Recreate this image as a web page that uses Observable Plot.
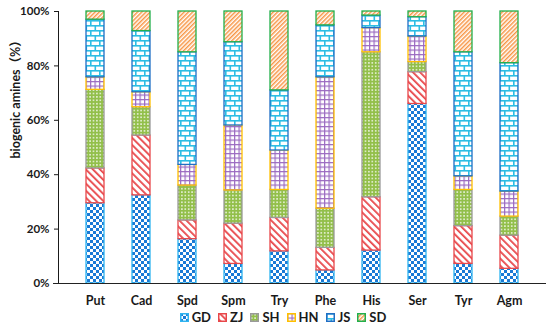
<!DOCTYPE html>
<html>
<head>
<meta charset="utf-8">
<script src="https://cdn.jsdelivr.net/npm/d3@7"></script>
<script src="https://cdn.jsdelivr.net/npm/@observablehq/plot@0.6"></script>
<style>
  html, body { margin: 0; padding: 0; background: #fff; }
  #wrap { position: relative; width: 550px; height: 328px; overflow: hidden; }
  #chart svg g[aria-label^="x-axis"] text { font-size: 12.5px; }
  #legend { position: absolute; top: 309px; left: 0; width: 550px; padding-left: 16px; box-sizing: border-box;
            display: flex; justify-content: center; align-items: center; gap: 7px;
            font-family: Lato, "Liberation Sans", sans-serif; font-weight: bold; font-size: 13px; color: #1a1a1a; }
  #legend .item { display: flex; align-items: center; gap: 3px; }
  #legend svg { display: block; }
</style>
</head>
<body>
<div id="wrap">
  <div id="chart"></div>
  <div id="legend"></div>
</div>
<script>
// ---- data ----
const categories = ["Put", "Cad", "Spd", "Spm", "Try", "Phe", "His", "Ser", "Tyr", "Agm"];
const seriesNames = ["GD", "ZJ", "SH", "HN", "JS", "SD"];
const GD = [29.5, 32.4, 16.3, 7.2, 11.8, 4.8, 12.1, 66.0, 7.2, 5.4];
const ZJ = [12.8, 22.0, 6.9, 14.8, 12.3, 8.3, 19.6, 11.7, 13.9, 12.2];
const SH = [28.9, 10.4, 12.8, 12.2, 10.3, 14.4, 53.3, 3.7, 13.3, 7.0];
const HN = [4.6, 5.5, 7.6, 23.9, 14.5, 48.3, 8.9, 9.4, 5.0, 9.2];
const JS = [21.2, 22.5, 41.4, 30.6, 22.1, 19.1, 4.6, 7.1, 45.6, 47.2];
const SD = [3.0, 7.2, 15.0, 11.3, 29.0, 5.1, 1.5, 2.1, 15.0, 19.0];
const yTicks = [0, 20, 40, 60, 80, 100];
const yLabel = "biogenic amines（%）";

const seriesValues = [GD, ZJ, SH, HN, JS, SD];
const data = categories.flatMap((c, i) =>
  seriesNames.map((s, j) => ({category: c, series: s, value: seriesValues[j][i]})));

// ---- styles ----
const fills = Object.fromEntries(seriesNames.map(s => [s, `url(#p-${s})`]));
const strokes = {GD: "#2fb4f0", ZJ: "#e8474a", SH: "#9a9a9a", HN: "#ffc000", JS: "#1f6fc5", SD: "#22b04c"};

const chart = Plot.plot({
  width: 550,
  height: 308,
  marginLeft: 58,
  marginRight: 4,
  marginTop: 11,
  marginBottom: 25,
  style: {fontFamily: "Lato, 'Liberation Sans', sans-serif", fontWeight: "bold", fontSize: "11.5px", color: "#1a1a1a", background: "white", overflow: "visible"},
  x: {domain: categories, padding: 0.6, label: null, tickSize: 0, tickPadding: 13},
  y: {domain: [0, 100], ticks: yTicks, tickFormat: d => d + "%", label: null, tickSize: 4, tickPadding: 5, line: true},
  color: {type: "identity"},
  marks: [
    Plot.barY(data, Plot.stackY({
      x: "category", y: "value",
      fill: d => fills[d.series], stroke: d => strokes[d.series], strokeWidth: 1.3
    })),
    Plot.ruleY([0], {insetLeft: -5, stroke: "#222", strokeWidth: 1.2}),
    Plot.text([yLabel], {text: d => d, frameAnchor: "left", dx: -43, dy: 11, rotate: -90, fontSize: 12.5, fontWeight: "bold", fill: "#1a1a1a",
      fontFamily: "Lato, 'Noto Sans CJK SC', sans-serif"})
  ]
});

const defs = `
<pattern id="p-GD" patternUnits="userSpaceOnUse" width="6" height="6">
  <rect width="6" height="6" fill="#fff"/>
  <rect x="0" y="0" width="3" height="3" fill="#1a7ad6"/>
  <rect x="3" y="3" width="3" height="3" fill="#1a7ad6"/>
</pattern>
<pattern id="p-ZJ" patternUnits="userSpaceOnUse" width="5" height="5" patternTransform="rotate(-45)">
  <rect width="5" height="5" fill="#fff"/>
  <rect x="0" y="0" width="1.8" height="5" fill="#e8474a"/>
</pattern>
<pattern id="p-SH" patternUnits="userSpaceOnUse" width="3.4" height="3.4">
  <rect width="3.4" height="3.4" fill="#92bf4a"/>
  <rect x="1" y="1" width="1.4" height="1.4" fill="#fff"/>
</pattern>
<pattern id="p-HN" patternUnits="userSpaceOnUse" width="4.5" height="4.5">
  <rect width="4.5" height="4.5" fill="#fff"/>
  <rect x="0" y="0" width="1.2" height="4.5" fill="#9b6bc1"/>
  <rect x="0" y="0" width="4.5" height="1.2" fill="#9b6bc1"/>
</pattern>
<pattern id="p-JS" patternUnits="userSpaceOnUse" width="9" height="10">
  <rect width="9" height="10" fill="#fff"/>
  <rect x="0" y="0" width="9" height="1.6" fill="#2cbde4"/>
  <rect x="0" y="5" width="9" height="1.6" fill="#2cbde4"/>
  <rect x="0" y="0" width="1.6" height="5" fill="#2cbde4"/>
  <rect x="4.5" y="5" width="1.6" height="5" fill="#2cbde4"/>
</pattern>
<pattern id="p-SD" patternUnits="userSpaceOnUse" width="3" height="3" patternTransform="rotate(45)">
  <rect width="3" height="3" fill="#fff"/>
  <rect x="0" y="0" width="1.5" height="3" fill="#f79646"/>
</pattern>`;
d3.select(chart).insert("defs", ":first-child").html(defs);
document.getElementById("chart").appendChild(chart);

// ---- legend ----
const legend = d3.select("#legend");
for (const s of seriesNames) {
  const item = legend.append("div").attr("class", "item");
  const svg = item.append("svg").attr("width", 9).attr("height", 9);
  svg.append("rect").attr("x", 0.75).attr("y", 0.75).attr("width", 7.5).attr("height", 7.5)
    .attr("fill", fills[s]).attr("stroke", strokes[s]).attr("stroke-width", 1.5);
  item.append("span").text(s);
}
</script>
</body>
</html>
